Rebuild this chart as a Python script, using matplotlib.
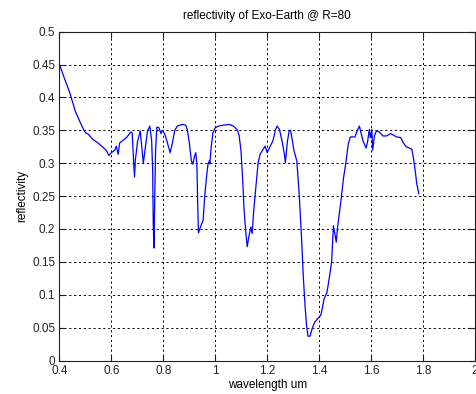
import matplotlib.pyplot as plt
import numpy as np

plt.rcParams['font.family'] = ['Liberation Sans', 'DejaVu Sans']

# values (wavelength in um, reflectivity)
wavelength = [
    0.400, 0.420, 0.439, 0.461, 0.480, 0.497, 0.503, 0.510, 0.529, 0.548,
    0.568, 0.581, 0.590, 0.600, 0.613, 0.619, 0.626, 0.632, 0.645, 0.658,
    0.675, 0.680, 0.686, 0.689, 0.692, 0.701, 0.711, 0.716, 0.723, 0.729,
    0.739, 0.748, 0.755, 0.759, 0.761, 0.764, 0.766, 0.770, 0.775, 0.783,
    0.791, 0.796, 0.806, 0.817, 0.826, 0.835, 0.844, 0.854, 0.873, 0.886,
    0.892, 0.899, 0.908, 0.914, 0.920, 0.925, 0.929, 0.933, 0.935, 0.943,
    0.953, 0.959, 0.966, 0.972, 0.977, 0.979, 0.984, 0.991, 1.000, 1.013,
    1.032, 1.054, 1.070, 1.086, 1.092, 1.099, 1.105, 1.111, 1.118, 1.123,
    1.129, 1.137, 1.142, 1.148, 1.156, 1.165, 1.173, 1.184, 1.192, 1.200,
    1.209, 1.222, 1.232, 1.238, 1.247, 1.257, 1.266, 1.270, 1.278, 1.285,
    1.290, 1.297, 1.303, 1.314, 1.323, 1.332, 1.339, 1.346, 1.352, 1.357,
    1.365, 1.373, 1.383, 1.394, 1.406, 1.413, 1.419, 1.430, 1.439, 1.448,
    1.455, 1.466, 1.471, 1.484, 1.494, 1.503, 1.512, 1.520, 1.538, 1.546,
    1.555, 1.561, 1.569, 1.581, 1.587, 1.593, 1.597, 1.603, 1.606, 1.613,
    1.620, 1.630, 1.646, 1.659, 1.675, 1.685, 1.698, 1.714, 1.724, 1.735,
    1.748, 1.757, 1.763, 1.770, 1.776, 1.784,
]
reflectivity = [
    0.450, 0.428, 0.408, 0.379, 0.362, 0.348, 0.3455, 0.3445, 0.336, 0.331,
    0.324, 0.319, 0.312, 0.316, 0.320, 0.326, 0.3135, 0.331, 0.335, 0.339,
    0.3475, 0.346, 0.299, 0.279, 0.304, 0.334, 0.349, 0.329, 0.300, 0.319,
    0.349, 0.3565, 0.334, 0.287, 0.208, 0.171, 0.228, 0.319, 0.355, 0.354,
    0.345, 0.350, 0.344, 0.329, 0.316, 0.331, 0.350, 0.3565, 0.359, 0.358,
    0.3515, 0.334, 0.3035, 0.2985, 0.311, 0.316, 0.2985, 0.228, 0.194, 0.203,
    0.213, 0.248, 0.2785, 0.2985, 0.3035, 0.299, 0.324, 0.3465, 0.354, 0.3565,
    0.358, 0.359, 0.3565, 0.350, 0.3415, 0.319, 0.2785, 0.228, 0.193, 0.173,
    0.188, 0.203, 0.193, 0.228, 0.263, 0.301, 0.314, 0.321, 0.326, 0.316,
    0.324, 0.334, 0.3515, 0.3565, 0.3515, 0.334, 0.314, 0.301, 0.334, 0.350,
    0.350, 0.334, 0.319, 0.3035, 0.254, 0.188, 0.127, 0.0815, 0.051, 0.037,
    0.037, 0.0485, 0.0585, 0.0635, 0.0685, 0.081, 0.0935, 0.1035, 0.1255, 0.150,
    0.205, 0.180, 0.203, 0.243, 0.278, 0.301, 0.329, 0.340, 0.340, 0.349,
    0.3565, 0.3465, 0.334, 0.323, 0.334, 0.3515, 0.339, 0.3515, 0.320, 0.3415,
    0.349, 0.348, 0.3415, 0.3415, 0.345, 0.343, 0.340, 0.339, 0.331, 0.325,
    0.323, 0.321, 0.3085, 0.2885, 0.2685, 0.2535,
]

x_ticks = [0.4, 0.6, 0.8, 1.0, 1.2, 1.4, 1.6, 1.8, 2.0]
x_labels = ['0.4', '0.6', '0.8', '1', '1.2', '1.4', '1.6', '1.8', '2']
y_ticks = [0, 0.05, 0.1, 0.15, 0.2, 0.25, 0.3, 0.35, 0.4, 0.45, 0.5]
y_labels = ['0', '0.05', '0.1', '0.15', '0.2', '0.25', '0.3', '0.35', '0.4', '0.45', '0.5']

fig = plt.figure(figsize=(4.77, 3.94), dpi=100)
ax = fig.add_axes([0.1247, 0.085, 0.871, 0.8345])

ax.plot(wavelength, reflectivity, color='#0000ff', lw=0.9)

ax.set_xlim(0.4, 2.0)
ax.set_ylim(0, 0.5)
ax.set_xticks(x_ticks)
ax.set_xticklabels(x_labels)
ax.set_yticks(y_ticks)
ax.set_yticklabels(y_labels)
ax.tick_params(direction='in', length=4, width=0.8, labelsize=8.5,
               top=True, right=True, colors='#222222', pad=3)
ax.grid(True, color='black', linestyle=(0, (2.2, 2.8)), linewidth=0.7)
for s in ax.spines.values():
    s.set_linewidth(0.8)
    s.set_color('#222222')

ax.set_title('reflectivity of Exo-Earth @ R=80', fontsize=8.5, pad=9)
ax.set_xlabel('wavelength um', fontsize=8.5, labelpad=2)
ax.set_ylabel('reflectivity', fontsize=8.5, labelpad=3)

fig.savefig('out.png', dpi=100)
